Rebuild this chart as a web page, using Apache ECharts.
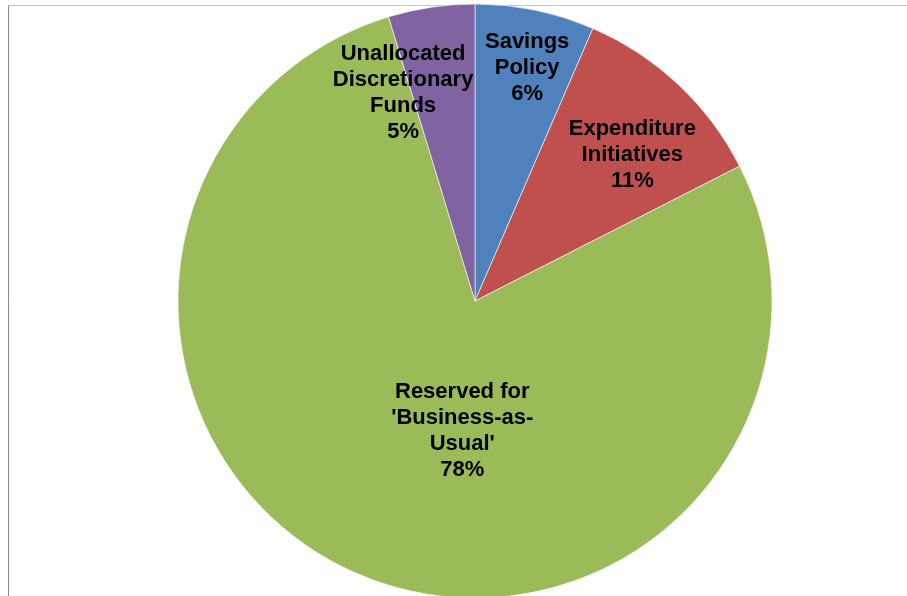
<!DOCTYPE html>
<html>
<head>
<meta charset="utf-8">
<script src="https://cdn.jsdelivr.net/npm/echarts@6/dist/echarts.min.js"></script>
<style>
html,body{margin:0;padding:0;background:#fff;}
#main{width:907px;height:596px;}
</style>
</head>
<body>
<div id="main"></div>
<script>
// Data
const categories = ['Savings\nPolicy', 'Expenditure\nInitiatives', "Reserved for\n'Business-as-\nUsual'", 'Unallocated\nDiscretionary\nFunds'];
const values = [6.5, 11.0, 77.8, 4.7];
const colors = ['#4F81BD', '#C0504D', '#9BBB59', '#8064A2'];
// label placement (angle clockwise from top in degrees, fraction of radius)
const labelAngles = [12.6, 47.2, 185.6, 340.9];
const labelRadii = [0.805, 0.722, 0.44, 0.74];

const cx = 475, cy = 301, R = 297;

const chart = echarts.init(document.getElementById('main'), null, {renderer: 'canvas'});
chart.setOption({
  animation: false,
  backgroundColor: '#fff',
  graphic: [
    {type: 'line', z: -1, shape: {x1: 8.5, y1: 5.5, x2: 907, y2: 5.5}, style: {stroke: '#c4c4c4', lineWidth: 1}},
    {type: 'line', z: -1, shape: {x1: 8.5, y1: 5.5, x2: 8.5, y2: 596}, style: {stroke: '#8a8a8a', lineWidth: 1}}
  ],
  series: [{
    type: 'pie',
    center: [cx, cy],
    radius: [0, R],
    startAngle: 90,
    clockwise: true,
    percentPrecision: 0,
    avoidLabelOverlap: false,
    itemStyle: {borderColor: '#ffffff', borderWidth: 0.6},
    label: {
      show: true,
      position: 'inside',
      formatter: '{b}\n{d}%',
      fontFamily: 'Liberation Sans, Arial, sans-serif',
      fontWeight: 'bold',
      fontSize: 22,
      lineHeight: 26,
      color: '#000',
      align: 'center'
    },
    labelLine: {show: false},
    emphasis: {disabled: true},
    labelLayout: function (p) {
      const i = p.dataIndex;
      const a = labelAngles[i] * Math.PI / 180;
      const r = labelRadii[i] * R;
      return {x: cx + r * Math.sin(a), y: cy - r * Math.cos(a)};
    },
    data: categories.map((c, i) => ({name: c, value: values[i], itemStyle: {color: colors[i]}}))
  }]
});
</script>
</body>
</html>
